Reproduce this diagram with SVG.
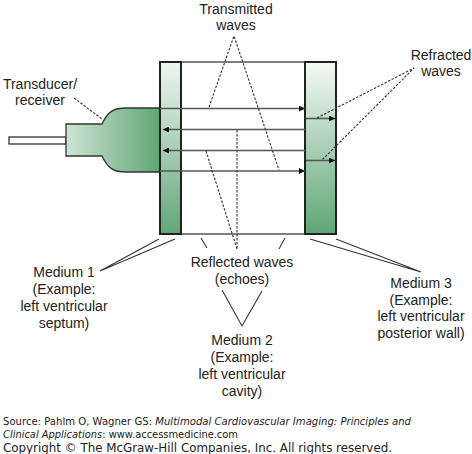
<svg xmlns="http://www.w3.org/2000/svg" width="472" height="454" viewBox="0 0 472 454">
<style>
.lbl{font-family:"Liberation Sans",Arial,sans-serif;font-size:14px;fill:#222;text-anchor:middle}
.src{font-family:"DejaVu Sans",Verdana,sans-serif;font-size:10.2px;fill:#222}
.it{font-style:italic}
.wave{stroke:#555;stroke-width:1.6;fill:none}
.box{stroke:#555;stroke-width:1.5;fill:none}
.lead{stroke:#333;stroke-width:1.1;fill:none;stroke-dasharray:2.5 1.5}
.solid{stroke:#333;stroke-width:1.1;fill:none}
.med{stroke:#222;stroke-width:2}
</style>
<defs>
<linearGradient id="gL" x1="0" y1="0" x2="0" y2="1">
<stop offset="0" stop-color="#eef6f0"/><stop offset="1" stop-color="#62a678"/>
</linearGradient>
<linearGradient id="gR" x1="0" y1="0" x2="0" y2="1">
<stop offset="0" stop-color="#f4f9f5"/><stop offset="1" stop-color="#5fa575"/>
</linearGradient>
<linearGradient id="gH" x1="66" y1="0" x2="160" y2="0" gradientUnits="userSpaceOnUse">
<stop offset="0" stop-color="#cde5d4"/><stop offset="1" stop-color="#5fa575"/>
</linearGradient>
<marker id="ah" viewBox="0 0 10 10" refX="10" refY="5" markerWidth="8" markerHeight="6" markerUnits="userSpaceOnUse" orient="auto">
<path d="M0,0 L10,5 L0,10 Z" fill="#111"/>
</marker>
</defs>

<g id="transducer">
<rect x="9" y="137" width="57" height="7" fill="#fff" stroke="#333" stroke-width="1.3"/>
<path d="M66,124 L102,124 C108,111 114,108 126,108 L160,108 L160,172 L126,172 C114,172 108,169 102,156 L66,156 Z" fill="url(#gH)" stroke="#333" stroke-width="1.3"/>
</g>

<g id="medium2">
<line class="box" x1="181" y1="62" x2="305" y2="62"/>
<line class="box" x1="181" y1="234" x2="305" y2="234"/>
</g>

<g id="medium1">
<rect class="med" x="160" y="62" width="21" height="172" fill="url(#gL)"/>
</g>

<g id="medium3">
<rect class="med" x="305" y="62" width="31" height="172" fill="url(#gR)"/>
</g>

<g id="connectors">
<line class="wave" x1="160" y1="108.5" x2="305" y2="108.5" marker-end="url(#ah)"/>
<line class="wave" x1="305" y1="129.5" x2="163" y2="129.5" marker-end="url(#ah)"/>
<line class="wave" x1="305" y1="150.5" x2="163" y2="150.5" marker-end="url(#ah)"/>
<line class="wave" x1="160" y1="171" x2="305" y2="171" marker-end="url(#ah)"/>
<line class="wave" x1="306" y1="118.5" x2="335" y2="118.5" marker-end="url(#ah)"/>
<line class="wave" x1="306" y1="160.5" x2="335" y2="160.5" marker-end="url(#ah)"/>

<polyline class="lead" points="209,107 234,36 279,170"/>
<polyline class="lead" points="317,118 414,68 322,160"/>
<line class="lead" x1="74" y1="98" x2="102" y2="119"/>
<line class="lead" x1="206" y1="151" x2="237" y2="249"/>
<line class="lead" x1="237" y1="130" x2="237" y2="249"/>

<polyline class="solid" points="159,239 100,271 175,239"/>
<polyline class="solid" points="310,239 421,272 336,239"/>
<polyline class="solid" points="222,290 242,326 262,291"/>
<line class="solid" x1="201" y1="238" x2="207" y2="248"/>
<line class="solid" x1="285" y1="238" x2="279" y2="249"/>
</g>

<g id="labels">
<text class="lbl" x="236" y="14">Transmitted</text>
<text class="lbl" x="236" y="30">waves</text>
<text class="lbl" x="441" y="60">Refracted</text>
<text class="lbl" x="441" y="76">waves</text>
<text class="lbl" x="40" y="89">Transducer/</text>
<text class="lbl" x="40" y="105">receiver</text>
<text class="lbl" x="242" y="267">Reflected waves</text>
<text class="lbl" x="242" y="284">(echoes)</text>
<text class="lbl" x="64" y="277">Medium 1</text>
<text class="lbl" x="64" y="294">(Example:</text>
<text class="lbl" x="64" y="311">left ventricular</text>
<text class="lbl" x="64" y="328">septum)</text>
<text class="lbl" x="242" y="345">Medium 2</text>
<text class="lbl" x="242" y="362">(Example:</text>
<text class="lbl" x="242" y="379">left ventricular</text>
<text class="lbl" x="242" y="396">cavity)</text>
<text class="lbl" x="421" y="288">Medium 3</text>
<text class="lbl" x="421" y="305">(Example:</text>
<text class="lbl" x="421" y="321">left ventricular</text>
<text class="lbl" x="421" y="338">posterior wall)</text>
</g>

<g id="source">
<text class="src" x="3" y="425" textLength="408" lengthAdjust="spacingAndGlyphs">Source: Pahlm O, Wagner GS: <tspan class="it">Multimodal Cardiovascular Imaging: Principles and</tspan></text>
<text class="src" x="3" y="438" textLength="235" lengthAdjust="spacingAndGlyphs"><tspan class="it">Clinical Applications</tspan>: www.accessmedicine.com</text>
<text class="src" x="3" y="452" style="font-size:11.5px" textLength="389" lengthAdjust="spacingAndGlyphs">Copyright © The McGraw-Hill Companies, Inc. All rights reserved.</text>
</g>
</svg>
